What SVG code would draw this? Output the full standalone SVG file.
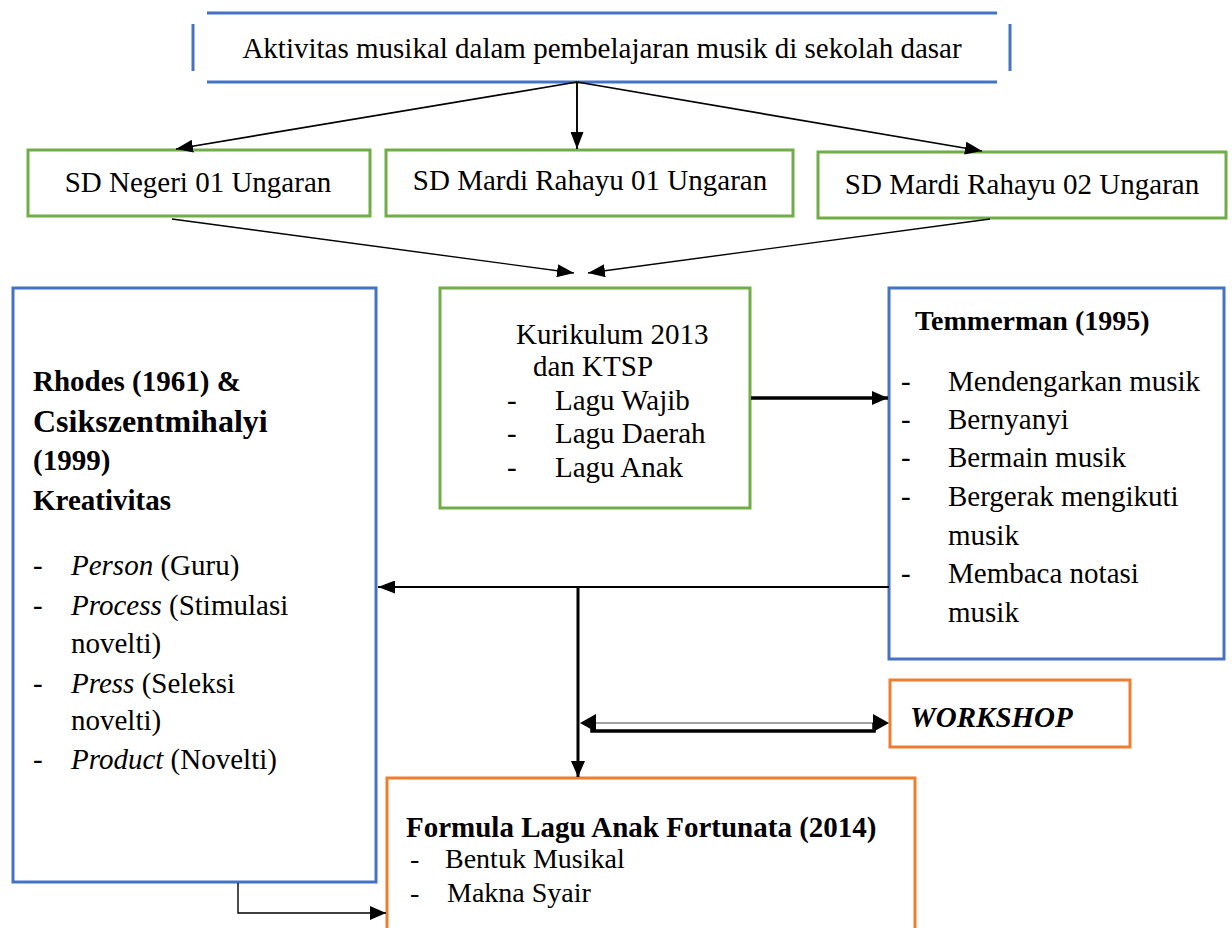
<svg xmlns="http://www.w3.org/2000/svg" width="1232" height="928" viewBox="0 0 1232 928">
<style>
.t{font-family:"Liberation Serif","Times New Roman",serif;font-size:29px;fill:#000}
.b{font-weight:bold}
.i{font-style:italic}
.blue{fill:none;stroke:#4472C4;stroke-width:3}
.green{fill:none;stroke:#70AD47;stroke-width:3}
.orange{fill:none;stroke:#ED7D31;stroke-width:3}
.c{fill:none;stroke:#000}
</style>
<defs>
<marker id="ah" markerUnits="userSpaceOnUse" markerWidth="17" markerHeight="13" refX="17" refY="6.5" orient="auto"><path d="M0,0 L17,6.5 L0,13 z" fill="#000"/></marker>
<marker id="ahb" markerUnits="userSpaceOnUse" markerWidth="16" markerHeight="14" refX="16" refY="7" orient="auto"><path d="M0,0 L16,7 L0,14 z" fill="#000"/></marker>
</defs>
<rect width="1232" height="928" fill="#fff"/>

<g id="top">
<line class="blue" x1="207" y1="13" x2="997" y2="13"/>
<line class="blue" x1="207" y1="82" x2="997" y2="82"/>
<line class="blue" x1="193" y1="24" x2="193" y2="71"/>
<line class="blue" x1="1010" y1="24" x2="1010" y2="71"/>
<text class="t" x="602" y="58" text-anchor="middle">Aktivitas musikal dalam pembelajaran musik di sekolah dasar</text>
</g>

<g id="sd1">
<rect class="green" x="28" y="150" width="342" height="66"/>
<text class="t" x="198" y="192" text-anchor="middle">SD Negeri 01 Ungaran</text>
</g>
<g id="sd2">
<rect class="green" x="386" y="150" width="407" height="66"/>
<text class="t" x="590" y="190" text-anchor="middle">SD Mardi Rahayu 01 Ungaran</text>
</g>
<g id="sd3">
<rect class="green" x="818" y="152" width="408" height="66"/>
<text class="t" x="1022" y="194" text-anchor="middle">SD Mardi Rahayu 02 Ungaran</text>
</g>

<g id="kurikulum">
<rect class="green" x="440" y="288" width="310" height="220"/>
<text class="t" x="516" y="344">Kurikulum 2013</text>
<text class="t" x="533" y="376">dan KTSP</text>
<text class="t" x="507" y="410">-</text><text class="t" x="555" y="410">Lagu Wajib</text>
<text class="t" x="507" y="443">-</text><text class="t" x="555" y="443">Lagu Daerah</text>
<text class="t" x="507" y="477">-</text><text class="t" x="555" y="477">Lagu Anak</text>
</g>

<g id="temmerman">
<rect class="blue" x="889" y="288" width="335" height="371"/>
<text class="t b" x="915" y="330" style="font-size:28px">Temmerman (1995)</text>
<text class="t" x="901" y="391">-</text><text class="t" x="948" y="391">Mendengarkan musik</text>
<text class="t" x="901" y="429">-</text><text class="t" x="948" y="429">Bernyanyi</text>
<text class="t" x="901" y="467">-</text><text class="t" x="948" y="467">Bermain musik</text>
<text class="t" x="901" y="506">-</text><text class="t" x="948" y="506">Bergerak mengikuti</text>
<text class="t" x="948" y="545">musik</text>
<text class="t" x="901" y="583">-</text><text class="t" x="948" y="583">Membaca notasi</text>
<text class="t" x="948" y="622">musik</text>
</g>

<g id="rhodes">
<rect class="blue" x="13" y="288" width="363" height="594"/>
<text class="t b" x="33" y="391">Rhodes (1961) &amp;</text>
<text class="t b" x="33" y="432" style="font-size:32px">Csikszentmihalyi</text>
<text class="t b" x="33" y="470">(1999)</text>
<text class="t b" x="33" y="510">Kreativitas</text>
<text class="t" x="33" y="575">-</text><text class="t" x="71" y="575"><tspan class="i">Person</tspan> (Guru)</text>
<text class="t" x="33" y="615">-</text><text class="t" x="71" y="615"><tspan class="i">Process</tspan> (Stimulasi</text>
<text class="t" x="71" y="653">novelti)</text>
<text class="t" x="33" y="693">-</text><text class="t" x="71" y="693"><tspan class="i">Press</tspan> (Seleksi</text>
<text class="t" x="71" y="730">novelti)</text>
<text class="t" x="33" y="769">-</text><text class="t" x="71" y="769"><tspan class="i">Product</tspan> (Novelti)</text>
</g>

<g id="workshop">
<rect class="orange" x="890" y="680" width="240" height="67"/>
<text class="t b i" x="910" y="727">WORKSHOP</text>
</g>

<g id="formula">
<path class="orange" d="M387,940 V778 H915 V940"/>
<text class="t b" x="406" y="837">Formula Lagu Anak Fortunata (2014)</text>
<text class="t" x="410" y="868" style="font-size:28px">-</text><text class="t" x="445" y="868" style="font-size:28px">Bentuk Musikal</text>
<text class="t" x="410" y="902" style="font-size:28px">-</text><text class="t" x="447" y="902" style="font-size:28px">Makna Syair</text>
</g>

<g id="connectors">
<line class="c" stroke-width="1.7" x1="577" y1="82" x2="176" y2="149" marker-end="url(#ah)"/>
<line class="c" stroke-width="1.9" x1="577" y1="82" x2="577" y2="149" marker-end="url(#ah)"/>
<line class="c" stroke-width="1.7" x1="577" y1="82" x2="982" y2="151" marker-end="url(#ah)"/>
<line class="c" stroke-width="1.4" x1="172" y1="219" x2="574" y2="273" marker-end="url(#ah)"/>
<line class="c" stroke-width="1.4" x1="990" y1="219" x2="588" y2="273" marker-end="url(#ah)"/>
<line class="c" stroke-width="3.5" x1="751" y1="398" x2="888" y2="398" marker-end="url(#ahb)"/>
<line class="c" stroke-width="2.2" x1="889" y1="587" x2="378" y2="587" marker-end="url(#ah)"/>
<line class="c" stroke-width="3" x1="578" y1="587" x2="578" y2="777" marker-end="url(#ahb)"/>
<line stroke="#808080" stroke-width="1.5" x1="594" y1="723" x2="874" y2="723"/>
<path class="c" stroke-width="3.5" d="M592,723 V731 H874 V723"/>
<path d="M580,723 L596,714 L596,732 z" fill="#000"/>
<path d="M889,723 L873,714 L873,732 z" fill="#000"/>
<polyline class="c" stroke-width="1.4" points="238,883 238,913 386,913" marker-end="url(#ahb)"/>
</g>
</svg>
